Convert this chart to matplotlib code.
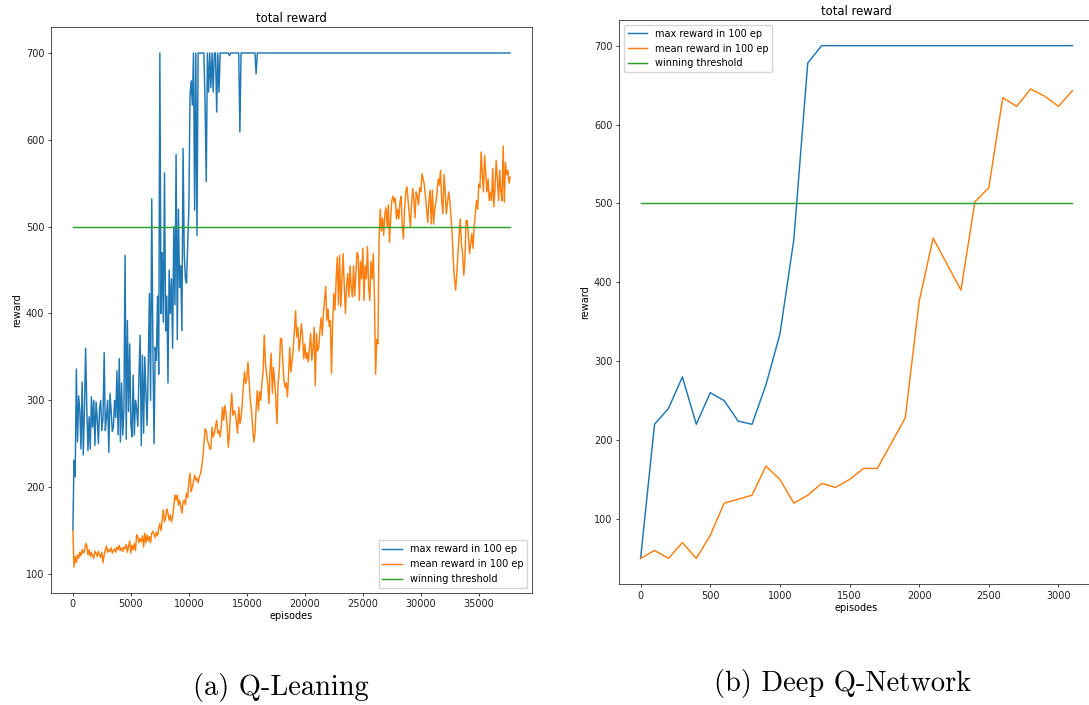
import numpy as np
import matplotlib
matplotlib.use("Agg")
import matplotlib.pyplot as plt

# ---------------- data: (a) Q-Learning ----------------
ql_step = 100
ql_max_early = [
    150, 231, 212, 336, 252, 305, 288, 244, 321, 237,
    290, 360, 292, 242, 281, 244, 304, 269, 300, 248,
    298, 279, 250, 290, 300, 265, 280, 355, 265, 281,
    300, 240, 308, 288, 264, 270, 300, 280, 334, 260,
    348, 252, 320, 260, 288, 467, 255, 392, 287, 365,
    273, 258, 329, 260, 300, 290, 270, 330, 375, 248,
    352, 262, 350, 308, 271, 340, 423, 300, 532, 363,
    250, 361, 346, 420, 330, 700, 400, 470, 390, 562,
    380, 420, 320, 450, 400, 440, 360, 500, 410, 583,
    370, 520, 430, 455, 380, 590, 470, 440, 435, 480,
    520, 650, 668, 640, 700, 519, 700, 490, 700, 700,
    700, 700, 700, 700, 640, 552, 700, 655, 700, 660,
    700, 655, 700, 700, 632, 700, 655, 700, 700, 700,
    700, 700, 700, 700, 700, 697, 700, 700, 700, 700,
    700, 700, 700, 700, 609, 700, 700, 700, 700, 700,
    700, 700, 700, 700, 700, 700, 700, 700, 676, 700,
]
ql_max_last_episode = 37700
ql_max_last_value = 700

ql_mean = [
    150, 108, 120, 113, 122, 118, 125, 121, 128, 124,
    126, 135, 133, 122, 128, 120, 125, 121, 118, 126,
    124, 120, 126, 122, 119, 125, 113, 122, 128, 132,
    125, 128, 126, 130, 124, 127, 129, 125, 131, 128,
    133, 127, 130, 126, 131, 129, 134, 125, 132, 138,
    124, 133, 128, 135, 127, 145, 143, 136, 141, 137,
    144, 131, 147, 136, 145, 138, 143, 136, 147, 149,
    146, 142, 148, 144, 152, 158, 150, 162, 174, 160,
    165, 175, 170, 162, 168, 160, 166, 177, 191, 185,
    191, 179, 185, 178, 170, 183, 185, 180, 193, 188,
    206, 216, 195, 200, 206, 214, 208, 210, 205, 212,
    215, 223, 233, 250, 267, 265, 254, 250, 244, 244,
    269, 258, 262, 270, 277, 262, 265, 258, 270, 292,
    277, 294, 285, 270, 246, 262, 290, 308, 283, 288,
    285, 275, 262, 292, 273, 280, 295, 317, 333, 319,
    325, 344, 323, 300, 288, 270, 252, 262, 290, 311,
    288, 310, 300, 320, 333, 375, 344, 330, 320, 296,
    334, 354, 308, 338, 320, 300, 273, 321, 335, 371,
    371, 345, 323, 315, 320, 304, 330, 361, 333, 345,
    360, 380, 403, 373, 384, 357, 370, 388, 375, 348,
    365, 348, 355, 344, 360, 377, 346, 360, 384, 317,
    377, 357, 361, 380, 395, 375, 400, 415, 431, 392,
    405, 385, 392, 331, 390, 423, 404, 440, 465, 410,
    467, 408, 440, 469, 431, 400, 431, 446, 419, 455,
    430, 419, 455, 420, 445, 470, 467, 415, 460, 440,
    475, 415, 455, 440, 477, 430, 415, 460, 440, 469,
    420, 330, 370, 365, 485, 520, 495, 510, 490, 515,
    522, 500, 525, 482, 510, 530, 535, 528, 533, 509,
    520, 509, 528, 535, 500, 486, 520, 540, 546, 530,
    515, 500, 525, 544, 530, 510, 540, 535, 525, 545,
    540, 561, 555, 549, 535, 520, 505, 530, 542, 503,
    542, 503, 520, 528, 540, 555, 548, 565, 530, 515,
    560, 540, 515, 528, 540, 530, 511, 492, 460, 440,
    427, 445, 469, 490, 509, 480, 469, 444, 460, 507,
    507, 490, 469, 480, 492, 475, 500, 515, 530, 520,
    549, 545, 586, 560, 540, 582, 560, 540, 555, 530,
    540, 530, 567, 523, 545, 576, 555, 530, 565, 540,
    530, 593, 528, 574, 560, 565, 550, 557,
]

# ---------------- data: (b) Deep Q-Network ----------------
dqn_step = 100
dqn_max = [
    50, 220, 240, 280, 220, 260, 250, 224, 220, 270,
    334, 454, 678, 700, 700, 700, 700, 700, 700, 700,
    700, 700, 700, 700, 700, 700, 700, 700, 700, 700,
    700, 700,
]
dqn_mean = [
    50, 60, 50, 70, 50, 79, 120, 125, 130, 167,
    150, 120, 130, 145, 140, 150, 164, 164, 196, 228,
    376, 456, 423, 390, 502, 520, 634, 623, 645, 636,
    623, 643,
]

threshold = 500
labels = ["max reward in 100 ep", "mean reward in 100 ep", "winning threshold"]
title = "total reward"
xlabel = "episodes"
ylabel = "reward"
captions = ["(a) Q-Leaning", "(b) Deep Q-Network"]

# ---------------- drawing ----------------
FS = 7.0
TFS = 8.4
plt.rcParams.update({
    "font.size": FS,
    "axes.linewidth": 0.6,
    "xtick.major.size": 2.4,
    "ytick.major.size": 2.4,
    "xtick.major.width": 0.6,
    "ytick.major.width": 0.6,
    "xtick.major.pad": 2.4,
    "ytick.major.pad": 2.4,
    "axes.edgecolor": "#333333",
    "xtick.color": "#222222",
    "ytick.color": "#222222",
})

W, H = 1089, 705
fig = plt.figure(figsize=(W / 100, H / 100), dpi=100)


def rect(l, t, r, b):
    return [l / W, 1 - b / H, (r - l) / W, (b - t) / H]


LW = 1.05

# (a)
ax1 = fig.add_axes(rect(51, 27.3, 532, 592.7))
x_mean = np.arange(len(ql_mean)) * ql_step
x_max = list(np.arange(len(ql_max_early)) * ql_step) + [ql_max_last_episode]
y_max = list(ql_max_early) + [ql_max_last_value]
ax1.plot(x_max, y_max, color="C0", lw=LW, label=labels[0])
ax1.plot(x_mean, ql_mean, color="C1", lw=LW, label=labels[1])
ax1.plot([x_mean[0], x_mean[-1]], [threshold, threshold], color="C2", lw=LW, label=labels[2])
ax1.set_title(title, fontsize=TFS, pad=3.5)
ax1.set_xlabel(xlabel, fontsize=FS, labelpad=1.5)
ax1.set_ylabel(ylabel, fontsize=FS, labelpad=3)
ax1.set_xticks(np.arange(0, 35001, 5000))
ax1.set_yticks(np.arange(100, 701, 100))
ax1.legend(loc="lower right", fontsize=FS, handlelength=2.0, borderpad=0.4,
           labelspacing=0.5, framealpha=0.8)

# (b)
ax2 = fig.add_axes(rect(619, 20, 1094, 584))
x_dqn = np.arange(len(dqn_max)) * dqn_step
ax2.plot(x_dqn, dqn_max, color="C0", lw=LW, label=labels[0])
ax2.plot(x_dqn, dqn_mean, color="C1", lw=LW, label=labels[1])
ax2.plot([x_dqn[0], x_dqn[-1]], [threshold, threshold], color="C2", lw=LW, label=labels[2])
ax2.set_title(title, fontsize=TFS, pad=3.5)
ax2.set_xlabel(xlabel, fontsize=FS, labelpad=1.5)
ax2.set_ylabel(ylabel, fontsize=FS, labelpad=3)
ax2.set_xticks(np.arange(0, 3001, 500))
ax2.set_yticks(np.arange(100, 701, 100))
ax2.legend(loc="upper left", fontsize=FS, handlelength=2.0, borderpad=0.4,
           labelspacing=0.5, framealpha=0.8)

fig.text(281 / W, 1 - 688 / H, captions[0], family="cmr10", fontsize=20.5,
         ha="center", va="center")
fig.text(843 / W, 1 - 684 / H, captions[1], family="cmr10", fontsize=20.5,
         ha="center", va="center")

fig.savefig("out.png", dpi=100)
